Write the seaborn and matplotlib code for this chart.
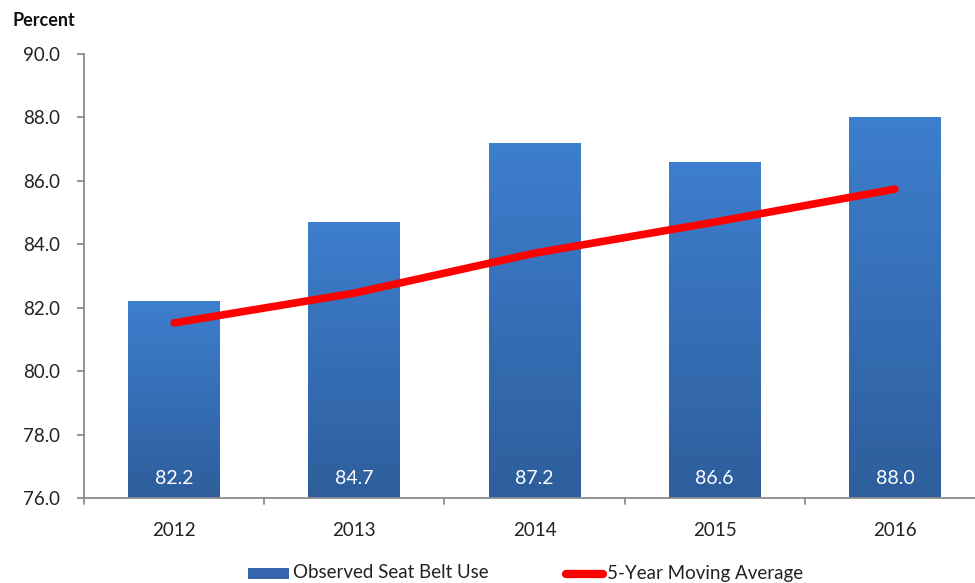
import matplotlib
matplotlib.use("Agg")
import matplotlib.pyplot as plt
import numpy as np
import pandas as pd
import seaborn as sns
from matplotlib.colors import LinearSegmentedColormap
from matplotlib.patches import Rectangle
from matplotlib.lines import Line2D

years = ["2012", "2013", "2014", "2015", "2016"]
seat_belt_use = [82.2, 84.7, 87.2, 86.6, 88.0]
moving_avg = [81.52, 82.46, 83.72, 84.70, 85.74]
yticks = [76, 78, 80, 82, 84, 86, 88, 90]

sns.set_theme(style="white")
plt.rcParams['font.family'] = ['Lato', 'DejaVu Sans']

df = pd.DataFrame({"Year": years, "Use": seat_belt_use, "Avg": moving_avg})

W, H = 975, 583
fig = plt.figure(figsize=(W / 100, H / 100), dpi=100)
ax_left, ax_right, ax_top, ax_bot = 84, 985, 54, 498
ax = fig.add_axes([ax_left / W, 1 - ax_bot / H, (ax_right - ax_left) / W, (ax_bot - ax_top) / H])

ymin, ymax = 76, 90
sns.barplot(data=df, x="Year", y="Use", color="#3a78c4", width=0.51, ax=ax,
            saturation=1, zorder=2)
ax.set_ylim(ymin, ymax)
ax.set_xlim(-0.5, len(years) - 0.5)

# gradient fill on bars
cmap = LinearSegmentedColormap.from_list("g", ["#2e5e9c", "#3d7ece"])
grad = np.linspace(0, 1, 256).reshape(-1, 1)
for p in list(ax.patches):
    x0, w, h = p.get_x(), p.get_width(), p.get_height()
    p.set_facecolor("none")
    p.set_edgecolor("none")
    im = ax.imshow(grad, extent=[x0, x0 + w, ymin, p.get_y() + h],
                   origin="lower", cmap=cmap, aspect="auto", zorder=2)
    im.set_clip_path(p)
ax.set_ylim(ymin, ymax)
ax.set_xlim(-0.5, len(years) - 0.5)

# value labels
for i, v in enumerate(seat_belt_use):
    ax.text(i, 76.62, f"{v:.1f}", ha="center", va="center", color="white",
            fontsize=14, zorder=4)

# moving average line
sns.lineplot(x=np.arange(len(years)), y=moving_avg, ax=ax, color="#ff0000",
             linewidth=5.5, zorder=3, legend=False)
ax.lines[-1].set_solid_capstyle("round")

ax.set_yticks(yticks)
ax.set_yticklabels([f"{t:.1f}" for t in yticks])
ax.set_xlabel("")
ax.set_ylabel("")
ax.set_xticks(np.arange(len(years)))
ax.set_xticklabels(years)

for s in ["top", "right"]:
    ax.spines[s].set_visible(False)
for s in ["left", "bottom"]:
    ax.spines[s].set_color("#8c8c8c")
    ax.spines[s].set_linewidth(1.3)

ax.tick_params(axis="y", which="both", left=True, length=5, width=1.3,
               color="#8c8c8c", labelsize=13.5, labelcolor="#222222", pad=12)
ax.tick_params(axis="x", bottom=False, labelsize=13.5, labelcolor="#222222", pad=11)
# category boundary ticks on x-axis
for b in np.arange(-0.5, len(years) - 0.5 + 0.01, 1.0):
    ax.plot([b, b], [ymin, ymin - 0.18], color="#8c8c8c", lw=1.3,
            clip_on=False, zorder=1)

fig.text(12 / W, 1 - 20 / H, "Percent", fontsize=13, fontweight="bold",
         ha="left", va="center", color="#111111")

# legend (drawn manually in figure coordinates)
fig.patches.append(Rectangle((248 / W, 1 - 579 / H), 41 / W, 11 / H,
                             transform=fig.transFigure, facecolor="#3566ad",
                             edgecolor="none"))
fig.text(293 / W, 1 - 573 / H, "Observed Seat Belt Use", fontsize=13.5,
         ha="left", va="center", color="#222222")
fig.lines.append(Line2D([566 / W, 603 / W], [1 - 574 / H, 1 - 574 / H],
                        transform=fig.transFigure, color="#ff0000", lw=6,
                        solid_capstyle="round"))
fig.text(607 / W, 1 - 573 / H, "5-Year Moving Average", fontsize=13.5,
         ha="left", va="center", color="#222222")

fig.savefig("out.png", dpi=100)
